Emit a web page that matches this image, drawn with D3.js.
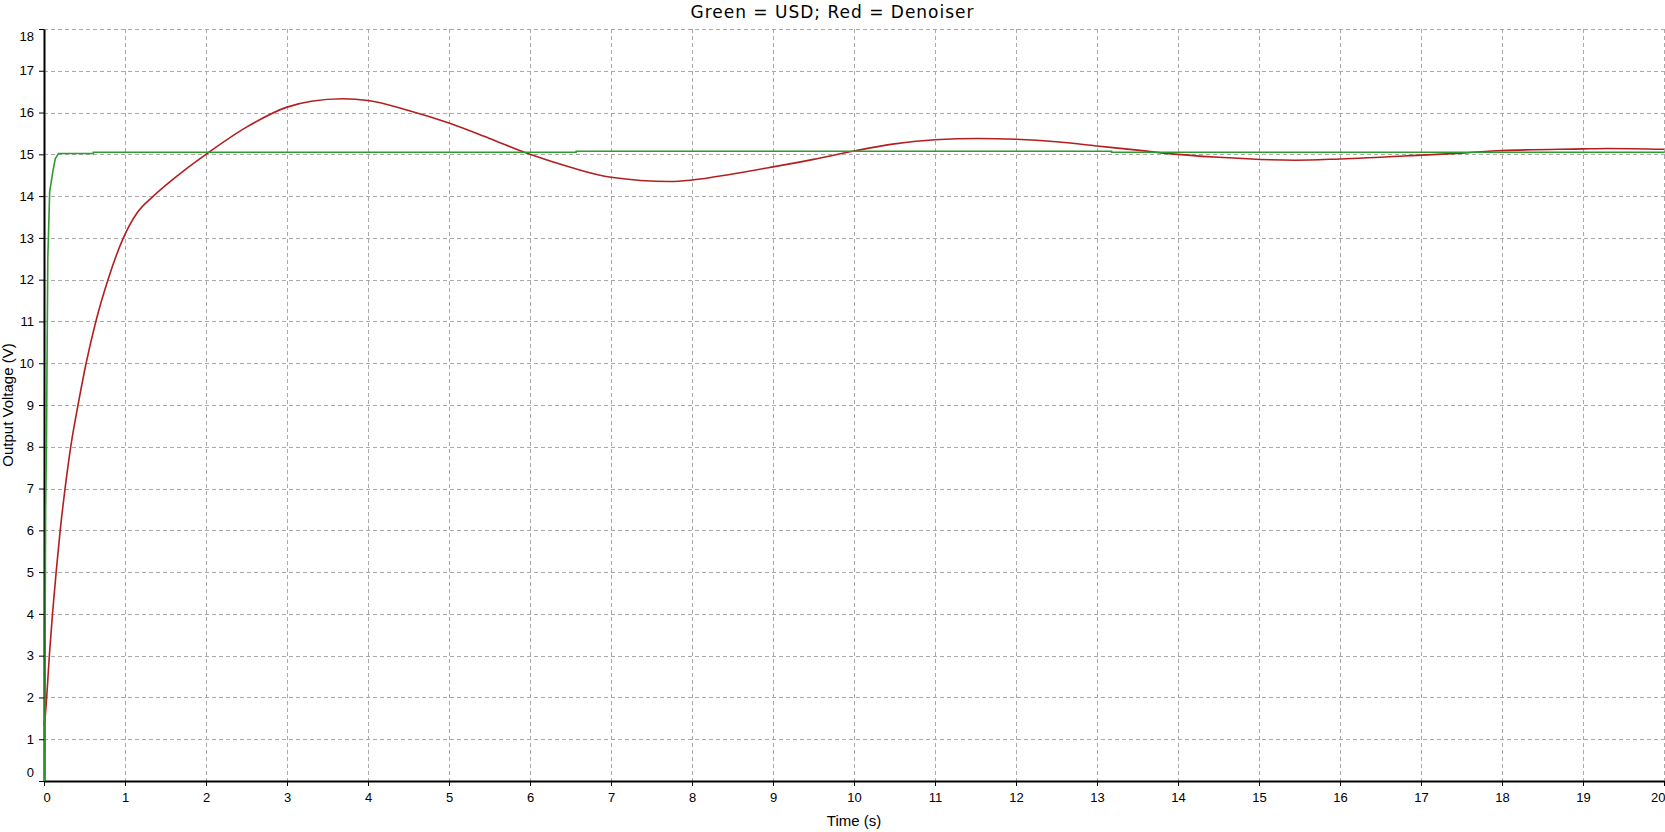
<!DOCTYPE html>
<html>
<head>
<meta charset="utf-8">
<script src="https://cdn.jsdelivr.net/npm/d3@7"></script>
<style>
  html, body { margin: 0; padding: 0; background: #fff; }
  svg { display: block; }
</style>
</head>
<body>
<svg id="chart" width="1665" height="832"></svg>
<script>
// ---- data ----
const title = "Green = USD; Red = Denoiser";
const xLabel = "Time (s)";
const yLabel = "Output Voltage (V)";
const xTicks = [0,1,2,3,4,5,6,7,8,9,10,11,12,13,14,15,16,17,18,19,20];
const yTicks = [0,1,2,3,4,5,6,7,8,9,10,11,12,13,14,15,16,17,18];

const redTime  = [0, 0.01, 0.033, 0.066, 0.105, 0.15, 0.2, 0.26, 0.33, 0.42, 0.52, 0.64, 0.79, 0.98, 1.15, 1.35, 1.72, 2.0, 2.5, 3.0, 3.3, 3.69, 4.0, 4.5, 5.0, 5.5, 6.0, 6.5, 7.0, 7.73, 8.0, 8.5, 9.0, 9.5, 10.0, 10.5, 11.0, 11.53, 12.0, 12.5, 13.0, 13.5, 13.82, 14.5, 15.44, 16.0, 17.0, 17.5, 18.0, 19.0, 19.3, 20.0];
const redVolt  = [1.35, 1.45, 2, 3, 4, 5, 6, 7, 8, 9, 10, 11, 12, 13, 13.6, 14.0, 14.6, 15.0, 15.65, 16.13, 16.27, 16.33, 16.29, 16.05, 15.75, 15.38, 15.0, 14.69, 14.45, 14.35, 14.385, 14.53, 14.70, 14.88, 15.08, 15.25, 15.35, 15.38, 15.36, 15.30, 15.2, 15.1, 15.03, 14.93, 14.86, 14.89, 14.98, 15.03, 15.09, 15.13, 15.14, 15.12];

const greenTime = [0, 0.005, 0.01, 0.02, 0.037, 0.06, 0.1, 0.13, 0.17, 0.6, 0.6, 6.56, 6.56, 13.17, 13.17, 20];
const greenVolt = [0, 4, 6.5, 8, 12.5, 14.1, 14.6, 14.9, 15.02, 15.02, 15.05, 15.05, 15.075, 15.075, 15.05, 15.05];

// ---- layout ----
const svg = d3.select("#chart");
const W = 1665, H = 832;
const mLeft = 44, mRight = 1664, mTop = 29, mBottom = 781;

const x = d3.scaleLinear().domain([0, 20]).range([mLeft, mRight]);
const y = d3.scaleLinear().domain([0, 18]).range([mBottom, mTop]);

const font = "'Liberation Sans', Arial, sans-serif";

// grid
const grid = svg.append("g").attr("stroke", "#a9a9a9").attr("stroke-width", 1).attr("stroke-dasharray", "4,3");
grid.selectAll("line.v").data(xTicks.filter(d => d > 0)).enter().append("line")
  .attr("x1", d => Math.round(x(d)) + 0.5).attr("x2", d => Math.round(x(d)) + 0.5)
  .attr("y1", mTop).attr("y2", mBottom);
grid.selectAll("line.h").data(yTicks.filter(d => d > 0)).enter().append("line")
  .attr("x1", mLeft).attr("x2", mRight + 1)
  .attr("y1", d => Math.round(y(d)) + 0.5).attr("y2", d => Math.round(y(d)) + 0.5);

// axes
const xAxis = svg.append("g").attr("transform", `translate(0,${mBottom})`)
  .call(d3.axisBottom(x).tickValues(xTicks).tickFormat(d3.format("d")).tickSize(5).tickPadding(7).tickSizeOuter(0));
const yAxis = svg.append("g").attr("transform", `translate(${mLeft},0)`)
  .call(d3.axisLeft(y).tickValues(yTicks).tickFormat(d3.format("d")).tickSize(5).tickPadding(5).tickSizeOuter(0));

[xAxis, yAxis].forEach(a => {
  a.select(".domain").attr("stroke", "#000").attr("stroke-width", 2);
  a.selectAll(".tick line").attr("stroke", "#000");
  a.selectAll(".tick text").attr("fill", "#000").style("font-family", font).style("font-size", "13px");
});
// keep end labels inside the plot box
xAxis.selectAll(".tick text").filter(d => d === 0).attr("text-anchor", "start").attr("x", -1);
xAxis.selectAll(".tick text").filter(d => d === 20).attr("text-anchor", "end").attr("x", 1);
yAxis.selectAll(".tick text").filter(d => d === 18).attr("dy", "0.85em");
yAxis.selectAll(".tick text").filter(d => d === 0).attr("dy", "-0.35em");

// lines
const redData = redTime.map((t, i) => [t, redVolt[i]]);
const greenData = greenTime.map((t, i) => [t, greenVolt[i]]);

svg.append("path").datum(redData)
  .attr("fill", "none").attr("stroke", "#b31f1f").attr("stroke-width", 1.6)
  .attr("d", d3.line().x(d => x(d[0])).y(d => y(d[1])).curve(d3.curveMonotoneX));

svg.append("path").datum(greenData)
  .attr("fill", "none").attr("stroke", "#2f9a2f").attr("stroke-width", 1.6)
  .attr("d", d3.line().x(d => x(d[0]) + 0.8).y(d => y(d[1])).curve(d3.curveLinear));

// titles
svg.append("text").attr("x", W / 2).attr("y", 18).attr("text-anchor", "middle")
  .style("font-family", "'DejaVu Sans', Verdana, sans-serif").style("font-size", "17px")
  .style("letter-spacing", "1px").attr("fill", "#000").text(title);

svg.append("text").attr("x", (mLeft + mRight) / 2).attr("y", 826).attr("text-anchor", "middle")
  .style("font-family", font).style("font-size", "15px").attr("fill", "#000").text(xLabel);

svg.append("text").attr("transform", `translate(13,${(mTop + mBottom) / 2}) rotate(-90)`).attr("text-anchor", "middle")
  .style("font-family", font).style("font-size", "15px").attr("fill", "#000").text(yLabel);
</script>
</body>
</html>
